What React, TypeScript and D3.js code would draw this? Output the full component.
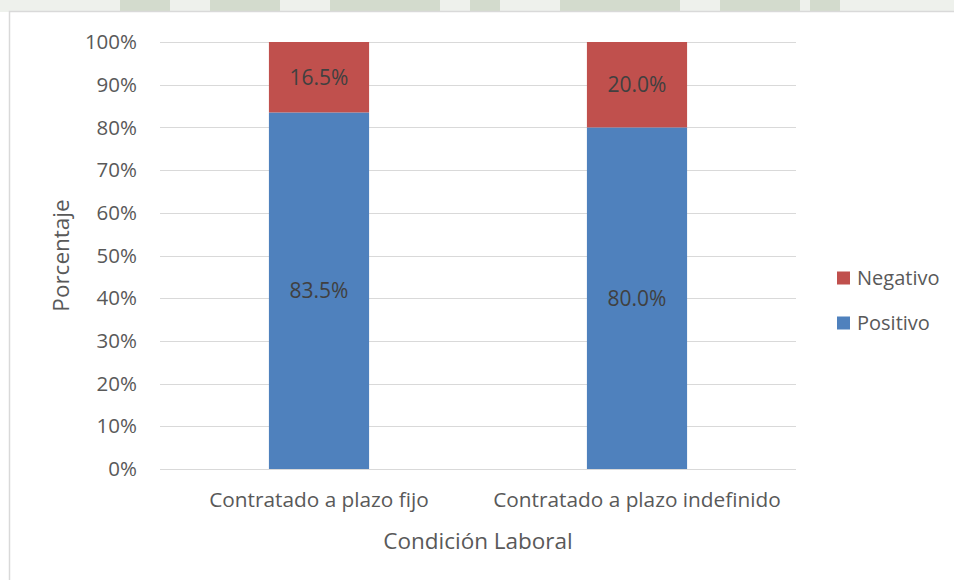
import { useRef, useEffect } from 'react';
import * as d3 from 'd3';

// Chart data
const categories = ['Contratado a plazo fijo', 'Contratado a plazo indefinido'];
const positivo = [83.5, 80.0];
const negativo = [16.5, 20.0];
const seriesNames = ['Positivo', 'Negativo'];
const seriesColors = ['#4f81bd', '#c0504d'];
const yTicks = [0, 10, 20, 30, 40, 50, 60, 70, 80, 90, 100];

const WIDTH = 954;
const HEIGHT = 580;
const FONT = '"Open Sans", "Noto Sans", sans-serif';

export default function App() {
  const svgRef = useRef<SVGSVGElement | null>(null);

  useEffect(() => {
    const svg = d3.select(svgRef.current);
    svg.selectAll('*').remove();

    const margin = { top: 42, left: 160, right: 158, bottom: 111 };
    const innerWidth = WIDTH - margin.left - margin.right;
    const innerHeight = HEIGHT - margin.top - margin.bottom;

    // faint watermark strip above the chart frame
    svg.append('rect').attr('x', 0).attr('y', 0).attr('width', WIDTH).attr('height', 12).attr('fill', '#eef1ec');
    const wm = svg.append('g');
    [[120, 50], [210, 70], [330, 110], [470, 30], [560, 120], [720, 80], [810, 30]].forEach(function (p) {
      wm.append('rect').attr('x', p[0]).attr('y', 0).attr('width', p[1]).attr('height', 11)
        .attr('fill', '#d3dbcd');
    });

    // chart frame
    svg.append('rect')
      .attr('x', 9.5).attr('y', 11.5)
      .attr('width', WIDTH).attr('height', HEIGHT)
      .attr('fill', '#fff').attr('stroke', '#d9d9d9').attr('stroke-width', 1.5);

    const g = svg.append('g')
      .attr('transform', 'translate(' + margin.left + ',' + margin.top + ')');

    const x = d3.scaleBand().domain(categories).range([0, innerWidth]).padding(0);
    const y = d3.scaleLinear().domain([0, 100]).range([innerHeight, 0]);
    const barWidth = x.bandwidth() * 0.315;

    // gridlines
    g.append('g').selectAll('line')
      .data(yTicks)
      .join('line')
      .attr('x1', 0).attr('x2', innerWidth)
      .attr('y1', function (d) { return Math.round(y(d)) + 0.5; })
      .attr('y2', function (d) { return Math.round(y(d)) + 0.5; })
      .attr('stroke', '#d9d9d9').attr('stroke-width', 1);

    // y tick labels
    g.append('g').selectAll('text')
      .data(yTicks)
      .join('text')
      .attr('x', -23)
      .attr('y', function (d) { return y(d); })
      .attr('dy', '0.35em')
      .attr('text-anchor', 'end')
      .attr('font-family', FONT).attr('font-size', 20.5).attr('fill', '#595959')
      .text(function (d) { return d + '%'; });

    // stacked bars
    const rows = categories.map(function (c, i) {
      return { cat: c, Positivo: positivo[i], Negativo: negativo[i] };
    });
    const stacked = d3.stack<any>().keys(seriesNames)(rows);

    stacked.forEach(function (layer, si) {
      const lg = g.append('g');
      lg.selectAll('rect')
        .data(layer)
        .join('rect')
        .attr('x', function (d: any) { return (x(d.data.cat) as number) + (x.bandwidth() - barWidth) / 2; })
        .attr('y', function (d: any) { return y(d[1]); })
        .attr('width', barWidth)
        .attr('height', function (d: any) { return y(d[0]) - y(d[1]); })
        .attr('fill', seriesColors[si]);
      lg.selectAll('text')
        .data(layer)
        .join('text')
        .attr('x', function (d: any) { return (x(d.data.cat) as number) + x.bandwidth() / 2; })
        .attr('y', function (d: any) { return (y(d[0]) + y(d[1])) / 2; })
        .attr('dy', '0.35em')
        .attr('text-anchor', 'middle')
        .attr('font-family', FONT).attr('font-size', 21).attr('fill', '#404040')
        .text(function (d: any) { return (d[1] - d[0]).toFixed(1) + '%'; });
    });

    // x category labels
    g.append('g').selectAll('text')
      .data(categories)
      .join('text')
      .attr('x', function (d) { return (x(d) as number) + x.bandwidth() / 2; })
      .attr('y', innerHeight + 31)
      .attr('dy', '0.35em')
      .attr('text-anchor', 'middle')
      .attr('font-family', FONT).attr('font-size', 20.8).attr('fill', '#595959')
      .text(function (d) { return d; });

    // axis titles
    svg.append('text')
      .attr('x', margin.left + innerWidth / 2).attr('y', 541)
      .attr('dy', '0.35em').attr('text-anchor', 'middle')
      .attr('font-family', FONT).attr('font-size', 22.5).attr('fill', '#595959')
      .text('Condición Laboral');

    svg.append('text')
      .attr('transform', 'translate(61,' + (margin.top + innerHeight / 2) + ') rotate(-90)')
      .attr('dy', '0.35em').attr('text-anchor', 'middle')
      .attr('font-family', FONT).attr('font-size', 22.5).attr('fill', '#595959')
      .text('Porcentaje');

    // legend (reverse order: Negativo on top)
    const legendItems = [1, 0];
    const leg = svg.append('g');
    legendItems.forEach(function (si, i) {
      const ly = 278 + i * 45;
      leg.append('rect').attr('x', 837).attr('y', ly - 6.5).attr('width', 13).attr('height', 13)
        .attr('fill', seriesColors[si]);
      leg.append('text').attr('x', 857).attr('y', ly).attr('dy', '0.35em')
        .attr('font-family', FONT).attr('font-size', 20).attr('fill', '#595959')
        .text(seriesNames[si]);
    });
  }, []);

  return (
    <svg
      ref={svgRef}
      width={WIDTH}
      height={HEIGHT}
      style={{ position: 'absolute', left: 0, top: 0, display: 'block' }}
    />
  );
}
